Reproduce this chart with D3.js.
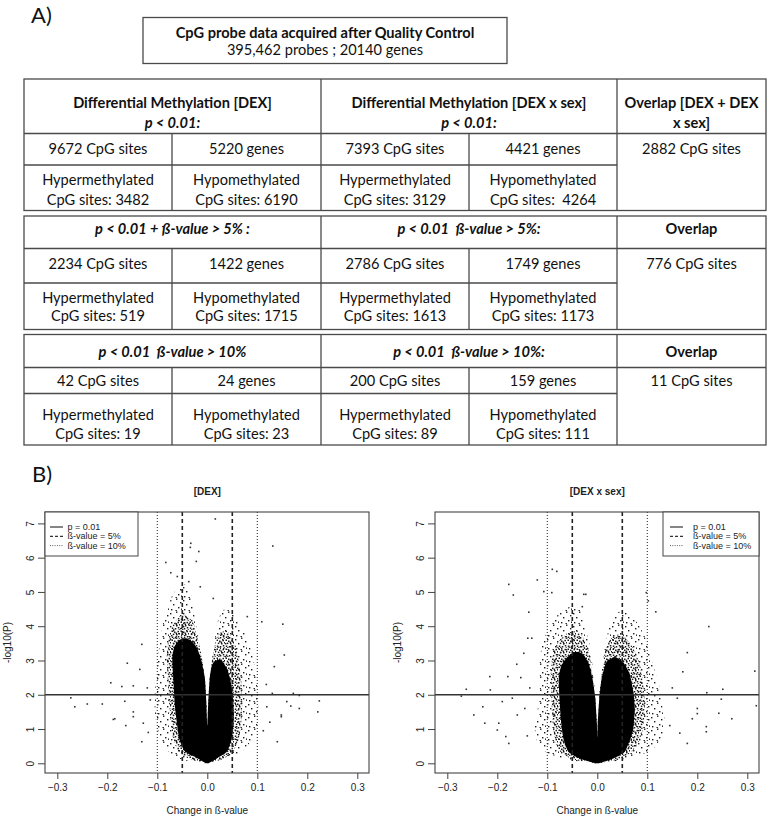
<!DOCTYPE html>
<meta charset="utf-8">
<style>
 body { margin: 0; background: #fff; }
 .cell line, .cell rect { stroke: #4a4a4a; stroke-width: 1.3px; fill: none; }
 .tt { font-family: Lato, "Open Sans", sans-serif; font-size: 14.6px; fill: #111; white-space: pre; }
 .tt.b { font-weight: bold; }
 .tt.bi { font-weight: bold; font-style: italic; }
 .panel { font-family: Lato, sans-serif; font-size: 22px; fill: #111; }
 .plot text { font-family: "Liberation Sans", Arial, sans-serif; fill: #222; }
 .frame { fill: none; stroke: #444; stroke-width: 1.1px; }
</style>
<svg id="fig" width="768" height="817"></svg>
<script src="https://cdn.jsdelivr.net/npm/d3@7"></script>
<script>

// ---- part A: summary table ----
var topTitle = "CpG probe data acquired after Quality Control";
var topSub = "395,462 probes ; 20140 genes";

var dexHeads = [["Differential Methylation [DEX]", "p < 0.01:"], ["p < 0.01 + ß-value > 5% :"], ["p < 0.01  ß-value > 10%"]];
var sexHeads = [["Differential Methylation [DEX x sex]", "p < 0.01:"], ["p < 0.01  ß-value > 5%:"], ["p < 0.01  ß-value > 10%:"]];
var overlapHeads = [["Overlap [DEX + DEX", "x sex]"], ["Overlap"], ["Overlap"]];

var dexSites = [9672, 2234, 42];
var dexGenes = [5220, 1422, 24];
var dexHyper = [3482, 519, 19];
var dexHypo = [6190, 1715, 23];
var sexSites = [7393, 2786, 200];
var sexGenes = [4421, 1749, 159];
var sexHyper = [3129, 1613, 89];
var sexHypo = [4264, 1173, 111];
var overlapSites = [2882, 776, 11];

// ---- part B: volcano plots, [change in beta, -log10(P)] ----
var xTicks = [-0.3, -0.2, -0.1, 0.0, 0.1, 0.2, 0.3];
var yTicks = [0, 1, 2, 3, 4, 5, 6, 7];
var pLine = 2;            // p = 0.01
var beta5 = [-0.05, 0.05];
var beta10 = [-0.1, 0.1];

// solid black core of the cloud, outline going round from the bottom
var dexCore = [[0,0],[-0.02,0.15],[-0.045,0.35],[-0.056,0.7],[-0.061,1.2],[-0.065,1.7],[-0.067,2.2],[-0.069,2.7],
  [-0.07,3.1],[-0.066,3.4],[-0.056,3.6],[-0.042,3.65],[-0.03,3.55],[-0.02,3.35],[-0.012,3.0],[-0.005,2.5],[-0.002,1.8],
  [0,1.1],[0.002,1.8],[0.005,2.5],[0.009,2.85],[0.016,3.0],[0.028,3.0],[0.04,2.75],[0.048,2.3],[0.052,1.8],[0.053,1.3],
  [0.05,0.8],[0.04,0.35],[0.02,0.15]];
// denser speckle just round the core
var dexMid = [[0,0],[-0.035,0.12],[-0.058,0.35],[-0.068,0.7],[-0.073,1.2],[-0.076,1.7],[-0.078,2.2],[-0.08,2.7],
  [-0.081,3.1],[-0.078,3.6],[-0.07,4.0],[-0.055,4.3],[-0.04,4.3],[-0.028,4.1],[-0.02,3.7],[-0.012,3.2],[-0.005,2.5],
  [-0.002,1.8],[0,1.1],[0.002,1.8],[0.005,2.5],[0.01,3.05],[0.016,3.5],[0.025,3.8],[0.04,3.85],[0.055,3.5],
  [0.063,3.0],[0.068,2.4],[0.07,1.8],[0.068,1.2],[0.063,0.7],[0.05,0.3],[0.03,0.12]];
// sparse fringe
var dexFringe = [[0,0],[-0.05,0.1],[-0.075,0.3],[-0.09,0.6],[-0.1,1.0],[-0.105,1.5],[-0.105,2.0],[-0.102,2.5],[-0.1,3.0],
  [-0.095,3.5],[-0.09,4.0],[-0.08,4.5],[-0.07,4.9],[-0.055,5.2],[-0.04,5.2],[-0.03,4.8],[-0.025,4.3],[-0.02,3.8],
  [-0.014,3.3],[-0.008,2.8],[-0.004,2.3],[-0.002,1.8],[0,1.1],[0.002,1.8],[0.005,2.5],[0.01,3.1],[0.015,3.6],
  [0.02,4.1],[0.03,4.45],[0.045,4.5],[0.06,4.2],[0.075,3.8],[0.088,3.3],[0.095,2.8],[0.1,2.2],[0.102,1.6],[0.1,1.1],
  [0.09,0.7],[0.07,0.35],[0.04,0.12]];
var dexOutliers = [[-0.273,1.91],[-0.265,1.65],[-0.24,1.73],[-0.21,1.73],[-0.193,2.35],[-0.188,1.28],[-0.185,1.3],
  [-0.16,2.92],[-0.171,2.24],[-0.165,1.81],[-0.163,1.1],[-0.148,2.26],[-0.148,1.5],[-0.148,1.36],[-0.131,3.47],
  [-0.135,2.74],[-0.131,0.63],[-0.128,1.17],[-0.114,1.85],[-0.12,2.2],[-0.118,0.9],
  [0.134,2.82],[0.13,2.04],[0.14,0.63],[0.151,4.06],[0.154,3.16],[0.148,1.41],[0.148,1.36],[0.159,1.8],[0.172,2.04],
  [0.167,1.67],[0.184,1.98],[0.184,1.6],[0.224,1.82],[0.221,1.5],[0.112,0.95],[0.119,1.65],[0.125,1.2],[0.118,2.3],
  [0.016,7.13],[0.131,6.34],[-0.017,6.18],[-0.083,5.86],[-0.033,6.42],[-0.034,6.3],[-0.022,5.89],[-0.073,5.56],
  [-0.014,5.15],[-0.037,5.3],[0.012,4.81],[0.08,4.28],[0.109,4.13],[-0.06,5.45],[-0.05,5.05]];

var sexCore = [[0,0],[-0.035,0.14],[-0.058,0.34],[-0.068,0.73],[-0.073,1.3],[-0.076,2.0],[-0.077,2.5],[-0.072,2.85],
  [-0.06,3.1],[-0.045,3.25],[-0.03,3.2],[-0.018,2.95],[-0.01,2.5],[-0.004,1.9],[-0.001,1.2],[0,0.75],[0.001,1.2],
  [0.004,1.9],[0.009,2.5],[0.018,2.95],[0.035,3.1],[0.052,2.95],[0.065,2.6],[0.072,2.1],[0.075,1.6],[0.072,1.0],
  [0.066,0.7],[0.055,0.34],[0.032,0.14]];
var sexMid = [[0,0],[-0.05,0.12],[-0.075,0.35],[-0.085,0.7],[-0.09,1.3],[-0.092,2.0],[-0.093,2.6],[-0.09,3.1],
  [-0.08,3.5],[-0.06,3.8],[-0.04,3.85],[-0.025,3.6],[-0.016,3.2],[-0.01,2.6],[-0.004,1.9],[-0.001,1.2],[0,0.75],
  [0.001,1.2],[0.004,1.9],[0.009,2.6],[0.016,3.3],[0.03,3.7],[0.05,3.75],[0.07,3.4],[0.085,2.9],[0.092,2.3],
  [0.095,1.7],[0.093,1.1],[0.085,0.7],[0.07,0.35],[0.045,0.12]];
var sexFringe = [[0,0],[-0.06,0.1],[-0.1,0.3],[-0.12,0.6],[-0.125,1.0],[-0.12,1.5],[-0.115,2.0],[-0.115,2.5],
  [-0.115,3.0],[-0.11,3.5],[-0.095,4.0],[-0.075,4.4],[-0.05,4.6],[-0.035,4.5],[-0.025,4.0],[-0.016,3.5],[-0.01,2.9],
  [-0.004,2.0],[-0.001,1.2],[0,0.75],[0.001,1.2],[0.004,2.0],[0.01,2.9],[0.016,3.5],[0.025,4.0],[0.04,4.4],[0.06,4.4],
  [0.08,4.1],[0.095,3.7],[0.105,3.2],[0.115,2.7],[0.125,2.2],[0.13,1.7],[0.135,1.2],[0.13,0.8],[0.11,0.4],[0.07,0.15]];
var sexOutliers = [[-0.177,5.22],[-0.168,4.91],[-0.12,5.35],[-0.137,4.41],[-0.09,5.66],[-0.081,5.6],[-0.107,5.01],
  [-0.091,4.98],[-0.027,4.93],[-0.023,4.93],[-0.03,4.57],[0.098,4.98],[0.102,4.74],[0.117,4.42],[0.223,3.99],
  [0.18,3.23],[0.171,2.67],[0.315,2.69],[0.318,1.68],[0.219,2.06],[0.251,2.16],[0.248,1.87],[0.243,1.46],[0.269,1.3],
  [0.218,1.07],[0.218,0.92],[0.2,1.45],[0.2,1.6],[0.19,1.3],[0.18,0.58],[0.165,0.88],[0.16,1.9],[0.15,2.2],[0.145,1.1],
  [-0.272,1.96],[-0.262,2.16],[-0.247,1.41],[-0.229,1.65],[-0.225,1.17],[-0.215,2.53],[-0.214,2.14],[-0.197,1.17],
  [-0.2,0.97],[-0.19,1.8],[-0.179,2.53],[-0.17,1.9],[-0.161,2.89],[-0.153,2.5],[-0.183,0.78],[-0.177,0.58],
  [-0.16,1.41],[-0.139,3.65],[-0.131,3.65],[-0.147,3.21],[-0.145,1.6],[-0.14,0.8],[-0.135,2.2]];

var svg = d3.select("#fig");

// panel letters
svg.append("text").attr("class", "panel").attr("x", 31).attr("y", 23).text("A)");
svg.append("text").attr("class", "panel").attr("x", 32).attr("y", 482).text("B)");

// top box
var tb = svg.append("g").attr("class", "cell");
tb.append("rect").attr("x", 143).attr("y", 17.5).attr("width", 364).attr("height", 46);
tb.append("text").attr("class", "tt b").attr("x", 325).attr("y", 37.5).attr("text-anchor", "middle").text(topTitle);
tb.append("text").attr("class", "tt").attr("x", 325).attr("y", 55).attr("text-anchor", "middle").text(topSub);

// column edges of the table
var colX = [24, 172, 321, 469, 617, 766];
// each block: top, header/row2/row3 bottoms, and text centre lines
var blocks = [
  { top: 79, hb: 133.5, r2: 165, bot: 210.5, hy: [102.5, 122.5], r2y: 148.5, r3y: [180, 199.5] },
  { top: 216, hb: 248.5, r2: 283, bot: 329.5, hy: [229], r2y: 264, r3y: [297.5, 316] },
  { top: 334.5, hb: 367.5, r2: 393.5, bot: 445, hy: [351.5], r2y: 381, r3y: [415, 433.5] }
];

function cellText(g, cx, cys, lines, cls) {
  lines.forEach(function(t, i) {
    var c = Array.isArray(cls) ? cls[i] : cls;
    g.append("text").attr("class", "tt " + c).attr("x", cx).attr("y", cys[i] + 5)
      .attr("text-anchor", "middle").text(t);
  });
}

blocks.forEach(function(b, i) {
  var g = svg.append("g").attr("class", "cell");
  g.append("rect").attr("x", colX[0]).attr("y", b.top).attr("width", colX[5] - colX[0]).attr("height", b.bot - b.top);
  g.append("line").attr("x1", colX[0]).attr("x2", colX[5]).attr("y1", b.hb).attr("y2", b.hb);
  g.append("line").attr("x1", colX[0]).attr("x2", colX[4]).attr("y1", b.r2).attr("y2", b.r2);
  [colX[2], colX[4]].forEach(function(x) {
    g.append("line").attr("x1", x).attr("x2", x).attr("y1", b.top).attr("y2", b.bot);
  });
  [colX[1], colX[3]].forEach(function(x) {
    g.append("line").attr("x1", x).attr("x2", x).attr("y1", b.hb).attr("y2", b.bot);
  });

  var hcls = i === 0 ? ["b", "bi"] : ["bi"];
  cellText(g, (colX[0] + colX[2]) / 2, b.hy, dexHeads[i], hcls);
  cellText(g, (colX[2] + colX[4]) / 2, b.hy, sexHeads[i], hcls);
  cellText(g, (colX[4] + colX[5]) / 2, b.hy, overlapHeads[i], "b");

  var mid = function(k) { return (colX[k] + colX[k + 1]) / 2; };
  cellText(g, mid(0), [b.r2y], [dexSites[i] + " CpG sites"], "");
  cellText(g, mid(1), [b.r2y], [dexGenes[i] + " genes"], "");
  cellText(g, mid(2), [b.r2y], [sexSites[i] + " CpG sites"], "");
  cellText(g, mid(3), [b.r2y], [sexGenes[i] + " genes"], "");
  cellText(g, mid(4), [b.r2y], [overlapSites[i] + " CpG sites"], "");
  cellText(g, mid(0), b.r3y, ["Hypermethylated", "CpG sites: " + dexHyper[i]], "");
  cellText(g, mid(1), b.r3y, ["Hypomethylated", "CpG sites: " + dexHypo[i]], "");
  cellText(g, mid(2), b.r3y, ["Hypermethylated", "CpG sites: " + sexHyper[i]], "");
  cellText(g, mid(3), b.r3y, ["Hypomethylated", "CpG sites:" + (i === 0 ? "  " : " ") + sexHypo[i]], "");
});

// speckle patterns for the edge of the clouds (irregular dots in a tile)
var defs = svg.append("defs");
function speckle(id, size, dots, s) {
  var p = defs.append("pattern").attr("id", id).attr("width", size).attr("height", size)
    .attr("patternUnits", "userSpaceOnUse");
  dots.forEach(function(d) {
    p.append("rect").attr("x", d[0]).attr("y", d[1]).attr("width", s).attr("height", s).attr("fill", "#1a1a1a");
  });
}
speckle("sparse", 13, [[1,2],[7,0.5],[11,4],[4,6],[9,9],[2,11],[6.5,12],[12,10.5]], 1.4);
speckle("dense", 9, [[0.5,0.5],[3,1.5],[6.5,0.8],[1.8,3.6],[5,4],[8,3],[0.8,6.5],[3.8,7],[6.8,6],[4.6,2.6],[2,8.2],[7.6,8.3]], 1.5);

function volcano(ox, title, core, midZone, fringe, outliers, leg) {
  var x = d3.scaleLinear().domain([-0.3, 0.3]).range([ox + 57.3, ox + 357.3]);
  var y = d3.scaleLinear().domain([0, 7]).range([763.3, 523.4]);
  var x0 = ox + 45, x1 = ox + 369, y0 = 512, y1 = 773;
  var g = svg.append("g").attr("class", "plot");
  var clipId = "clip" + ox;
  defs.append("clipPath").attr("id", clipId).append("rect")
    .attr("x", x0).attr("y", y0).attr("width", x1 - x0).attr("height", y1 - y0);
  var inner = g.append("g").attr("clip-path", "url(#" + clipId + ")");
  var line = d3.line().x(function(d) { return x(d[0]); }).y(function(d) { return y(d[1]); })
    .curve(d3.curveCardinalClosed.tension(0.5));

  inner.append("path").attr("d", line(fringe)).attr("fill", "url(#sparse)");
  inner.append("path").attr("d", line(midZone)).attr("fill", "url(#dense)");
  inner.append("path").attr("d", line(core)).attr("fill", "#000");
  inner.selectAll(".pt").data(outliers).enter().append("rect")
    .attr("x", function(d) { return x(d[0]) - 0.8; }).attr("y", function(d) { return y(d[1]) - 0.8; })
    .attr("width", 1.6).attr("height", 1.6).attr("fill", "#333");

  inner.append("line").attr("x1", x0).attr("x2", x1).attr("y1", y(pLine)).attr("y2", y(pLine))
    .attr("stroke", "#333").attr("stroke-width", 1.5);
  beta5.forEach(function(b) {
    inner.append("line").attr("x1", x(b)).attr("x2", x(b)).attr("y1", y0).attr("y2", y1)
      .attr("stroke", "#222").attr("stroke-width", 1.6).attr("stroke-dasharray", "4,3");
  });
  beta10.forEach(function(b) {
    inner.append("line").attr("x1", x(b)).attr("x2", x(b)).attr("y1", y0).attr("y2", y1)
      .attr("stroke", "#333").attr("stroke-width", 1.1).attr("stroke-dasharray", "1,2");
  });

  g.append("rect").attr("class", "frame").attr("x", x0).attr("y", y0).attr("width", x1 - x0).attr("height", y1 - y0);

  // axes, R style
  var xa = g.append("g").attr("transform", "translate(0," + y1 + ")")
    .call(d3.axisBottom(x).tickValues(xTicks).tickSize(6).tickPadding(5).tickFormat(d3.format(".1f")));
  xa.select(".domain").remove();
  xa.selectAll("text").attr("font-size", 10).attr("font-family", "Liberation Sans, Arial, sans-serif").attr("fill", "#222");
  xa.selectAll("line").attr("stroke", "#444");

  var ya = g.append("g").attr("transform", "translate(" + x0 + ",0)")
    .call(d3.axisLeft(y).tickValues(yTicks).tickSize(7).tickFormat(d3.format("d")));
  ya.select(".domain").remove();
  ya.selectAll("line").attr("stroke", "#444");
  ya.selectAll("text").attr("font-size", 10).attr("font-family", "Liberation Sans, Arial, sans-serif").attr("fill", "#222")
    .attr("x", null).attr("dy", null).attr("text-anchor", "middle")
    .attr("transform", "translate(-11,0) rotate(-90)");

  g.append("text").attr("x", ox + 207.3).attr("y", 495).attr("text-anchor", "middle")
    .attr("font-size", 10).attr("font-weight", "bold").text(title);
  g.append("text").attr("x", ox + 207.3).attr("y", 814).attr("text-anchor", "middle")
    .attr("font-size", 10).text("Change in ß-value");
  g.append("text").attr("transform", "translate(" + (ox + 11) + ",642.5) rotate(-90)").attr("text-anchor", "middle")
    .attr("font-size", 10).text("-log10(P)");

  // legend
  var lg = g.append("g");
  lg.append("rect").attr("x", leg.x).attr("y", y0).attr("width", leg.w).attr("height", 44)
    .attr("fill", "#fff").attr("stroke", "#444").attr("stroke-width", 1);
  var items = [["p = 0.01", null, 1.2], ["ß-value = 5%", "3,2", 1.2], ["ß-value = 10%", "1,1.3", 0.8]];
  items.forEach(function(it, i) {
    var yy = 527 + i * 9.3;
    lg.append("line").attr("x1", leg.x + leg.l0).attr("x2", leg.x + leg.l1).attr("y1", yy).attr("y2", yy)
      .attr("stroke", "#333").attr("stroke-width", it[2]).attr("stroke-dasharray", it[1]);
    lg.append("text").attr("x", leg.x + leg.t).attr("y", yy + 3).attr("font-size", 9).text(it[0]);
  });
}

volcano(0, "[DEX]", dexCore, dexMid, dexFringe, dexOutliers, { x: 45, w: 93, l0: 5, l1: 18, t: 22.5 });
volcano(390, "[DEX x sex]", sexCore, sexMid, sexFringe, sexOutliers, { x: 663, w: 96, l0: 7, l1: 20, t: 30 });

</script>
